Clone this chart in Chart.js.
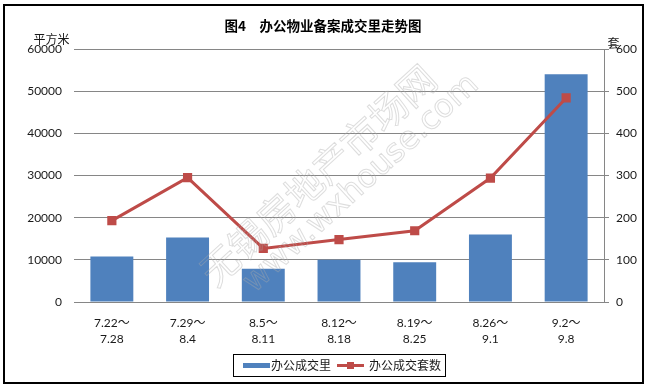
<!DOCTYPE html>
<html>
<head>
<meta charset="utf-8">
<script src="https://cdn.jsdelivr.net/npm/chart.js@4.4.1/dist/chart.umd.min.js"></script>
<style>
  html, body { margin: 0; padding: 0; background: #ffffff; }
  canvas { display: block; }
</style>
</head>
<body>
<canvas id="c" width="653" height="388"></canvas>
<script>
// ---- data ----
const categories = [
  ['7.22～', '7.28'],
  ['7.29～', '8.4'],
  ['8.5～', '8.11'],
  ['8.12～', '8.18'],
  ['8.19～', '8.25'],
  ['8.26～', '9.1'],
  ['9.2～', '9.8']
];
const areaValues = [10800, 15300, 7900, 10000, 9400, 16000, 54000];
const unitValues = [193, 295, 127, 148, 169, 294, 484];
const leftTicks = [0, 10000, 20000, 30000, 40000, 50000, 60000];
const rightTicks = [0, 100, 200, 300, 400, 500, 600];
const seriesNames = ['办公成交里', '办公成交套数'];
const titleText = '图4　办公物业备案成交里走势图';
const leftUnit = '平方米';
const rightUnit = '套';

const BLUE = '#4F81BD';
const RED = '#BE4B48';
const GRID = '#868686';
const TXT = '#1a1a1a';
const CJK = '"Noto Sans CJK SC", "Noto Sans", sans-serif';
const TICKFONT = { family: 'Lato, "Noto Sans CJK SC", sans-serif', size: 12 };

const decorPlugin = {
  id: 'decor',
  afterDatasetsDraw(chart) {
    const ctx = chart.ctx;
    // watermark
    ctx.save();
    ctx.strokeStyle = 'rgba(170,170,170,0.4)';
    ctx.lineWidth = 1;
    ctx.textAlign = 'center';
    ctx.textBaseline = 'middle';
    ctx.translate(318, 175);
    ctx.rotate(-42.5 * Math.PI / 180);
    ctx.font = '38px ' + CJK;
    ctx.strokeText('无锡房地产市场网', 0, 0);
    ctx.font = '32px "DejaVu Sans", sans-serif';
    ctx.strokeText('www.wxhouse.com', 26, 36);
    ctx.restore();
  },
  afterDraw(chart) {
    const ctx = chart.ctx;
    ctx.save();
    // outer border
    ctx.strokeStyle = '#000';
    ctx.lineWidth = 2;
    ctx.strokeRect(4, 5, 639, 378);
    // title
    ctx.fillStyle = '#000';
    ctx.font = 'bold 13.5px ' + CJK;
    ctx.textAlign = 'center';
    ctx.textBaseline = 'middle';
    ctx.fillText(titleText, 323, 26);
    // unit labels
    ctx.font = '12px ' + CJK;
    ctx.fillStyle = TXT;
    ctx.fillText(leftUnit, 51.5, 39);
    ctx.fillText(rightUnit, 613.5, 43);
    // legend
    const barDs = chart.data.datasets[0];
    const lineDs = chart.data.datasets[1];
    ctx.lineWidth = 1;
    ctx.strokeStyle = '#000';
    ctx.strokeRect(233.5, 354.5, 212, 22);
    const cy = 365.5;
    ctx.fillStyle = barDs.backgroundColor;
    ctx.fillRect(243, cy - 2.5, 27, 5);
    ctx.fillStyle = TXT;
    ctx.textAlign = 'left';
    ctx.font = '12px ' + CJK;
    ctx.fillText(barDs.label, 271, cy);
    ctx.strokeStyle = lineDs.borderColor;
    ctx.lineWidth = 3;
    ctx.beginPath();
    ctx.moveTo(337, cy);
    ctx.lineTo(364, cy);
    ctx.stroke();
    ctx.fillStyle = lineDs.pointBackgroundColor;
    ctx.fillRect(350.5 - 3.5, cy - 3.5, 7, 7);
    ctx.fillStyle = TXT;
    ctx.fillText(lineDs.label, 369, cy);
    ctx.restore();
  }
};

const plainTick = (v) => String(v);

new Chart(document.getElementById('c'), {
  data: {
    labels: categories,
    datasets: [
      {
        type: 'bar',
        label: seriesNames[0],
        data: areaValues,
        yAxisID: 'y',
        order: 1,
        backgroundColor: BLUE,
        borderWidth: 0,
        categoryPercentage: 1,
        barPercentage: 0.567
      },
      {
        type: 'line',
        label: seriesNames[1],
        data: unitValues,
        yAxisID: 'y1',
        order: 0,
        borderColor: RED,
        borderWidth: 3,
        backgroundColor: RED,
        pointStyle: 'rect',
        pointRadius: 6.5,
        pointHoverRadius: 6.5,
        pointBackgroundColor: RED,
        pointBorderColor: RED,
        pointBorderWidth: 0,
        tension: 0,
        fill: false
      }
    ]
  },
  options: {
    responsive: false,
    devicePixelRatio: 1,
    animation: false,
    layout: { padding: { top: 49, bottom: 34, left: 0, right: 0 } },
    plugins: {
      legend: { display: false },
      title: { display: false },
      tooltip: { enabled: false }
    },
    scales: {
      x: {
        type: 'category',
        grid: { display: false, drawTicks: false },
        border: { display: false },
        ticks: {
          font: Object.assign({ lineHeight: 1.333 }, TICKFONT),
          color: TXT,
          padding: 13,
          maxRotation: 0,
          autoSkip: false
        },
        afterFit(s) { s.height = 52; }
      },
      y: {
        position: 'left',
        min: 0,
        max: 60000,
        afterBuildTicks(s) { s.ticks = leftTicks.map(v => ({ value: v })); },
        grid: { color: GRID, lineWidth: 1, drawTicks: false },
        border: { display: false },
        ticks: { font: TICKFONT, color: TXT, padding: 12, callback: plainTick },
        afterFit(s) { s.width = 74; }
      },
      y1: {
        position: 'right',
        min: 0,
        max: 600,
        afterBuildTicks(s) { s.ticks = rightTicks.map(v => ({ value: v })); },
        grid: { drawOnChartArea: false, drawTicks: true, tickLength: 5, color: GRID },
        border: { display: true, color: GRID, width: 1 },
        ticks: { font: TICKFONT, color: TXT, padding: 7, callback: plainTick },
        afterFit(s) { s.width = 49; }
      }
    }
  },
  plugins: [decorPlugin]
});
</script>
</body>
</html>
